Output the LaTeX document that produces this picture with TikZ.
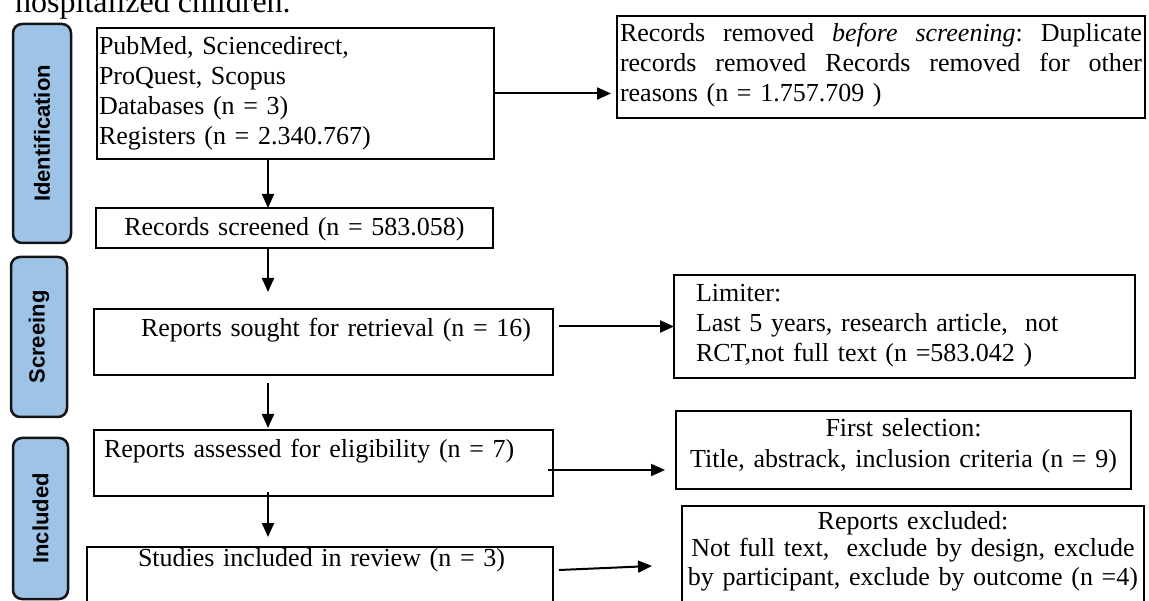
\documentclass[tikz,border=0pt]{standalone}
\usepackage{fontspec}
\setmainfont{Liberation Serif}
\setsansfont{Liberation Sans}
\usetikzlibrary{arrows.meta,calc}
\definecolor{phase}{RGB}{157,195,230}
\definecolor{phaseedge}{RGB}{20,20,20}
\newcommand\jsp{\hspace{0pt plus 1fil}}
\begin{document}
\begin{tikzpicture}[x=1pt,y=-1pt,
  box/.style={draw=black, line width=2.2pt, anchor=north west, inner sep=0pt, outer sep=0pt, font=\fontsize{26}{30}\selectfont},
  phasebox/.style={draw=phaseedge, fill=phase, line width=2.5pt, rounded corners=9pt, rotate=90, inner sep=0pt, font=\fontsize{22}{26}\selectfont\sffamily\bfseries},
  arr/.style={line width=2pt, -{Triangle[length=14pt,width=12pt]}}
]
\useasboundingbox (0,0) rectangle (1149,601);
\clip (0,0) rectangle (1149,601);

\node[anchor=base west, inner sep=0pt, font=\fontsize{32}{36}\selectfont] (title) at (15,13) {hospitalized children.};

\node[phasebox, minimum width=219pt, minimum height=58pt] (ident) at (42,133.5) {Identification};
\node[phasebox, minimum width=160pt, minimum height=56pt] (screen) at (39,337) {Screeing};
\node[phasebox, minimum width=161pt, minimum height=55pt] (incl) at (40.5,518.5) {Included};

\node[box, text width=393pt, inner xsep=2pt, text height=27pt, text depth=104pt, align=left] (src) at (97,28)
  {PubMed, Sciencedirect,\\ ProQuest, Scopus\\ Databases (n = 3)\\ Registers (n = 2.340.767)};

\node[box, text width=522pt, inner xsep=3pt, text height=26pt, text depth=76pt, align=left, font=\fontsize{26}{30}\selectfont] (removed) at (617,16)
  {\makebox[522pt][s]{Records\jsp removed\jsp \textit{before}\jsp \textit{screening}:\jsp Duplicate}\\
   \makebox[522pt][s]{records\jsp removed\jsp Records\jsp removed\jsp for\jsp other}\\
   reasons (n = 1.757.709 )};

\node[box, text width=397pt, text height=28pt, text depth=12pt, align=center] (screened) at (96,208)
  {Records screened (n = 583.058)};

\node[box, text width=459pt, text height=28pt, text depth=38pt, align=left] (sought) at (94,309)
  {\hspace*{47pt}Reports sought for retrieval (n = 16)};

\node[box, text width=459pt, text height=27pt, text depth=39pt, align=left] (assessed) at (94,430)
  {\hspace*{10pt}Reports assessed for eligibility (n = 7)};

\node[box, text width=466pt, text height=19pt, text depth=70pt, align=left] (studies) at (87,547)
  {\hspace*{51pt}Studies included in review (n = 3)};

\node[box, text width=417pt, inner xsep=22pt, text height=27pt, text depth=76pt, align=left] (limiter) at (674,275)
  {Limiter:\\ Last 5 years, research article, \ not\\ RCT,not full text (n =583.042 )};

\node[box, text width=455pt, text height=26pt, text depth=52pt, align=center, font=\fontsize{26}{31}\selectfont] (firstsel) at (676,411)
  {First selection:\\ Title, abstrack, inclusion criteria (n = 9)};

\node[box, text width=462pt, text height=23pt, text depth=100pt, align=center, font=\fontsize{26}{28}\selectfont] (excluded) at (682,506)
  {Reports excluded:\\ Not full text, \ exclude by design, exclude\\ by participant, exclude by outcome (n =4)};

\coordinate (spine) at (268,0);
\draw[arr, shorten >=6pt] (src.east) -- (removed.west |- src.east);
\draw[arr] (src.south -| spine) -- (screened.north -| spine);
\draw[arr, shorten >=17pt] (screened.south -| spine) -- (sought.north -| spine);
\draw[arr, shorten <=8pt, shorten >=2pt] (sought.south -| spine) -- (assessed.north -| spine);
\draw[arr, shorten <=-4pt, shorten >=10pt] (assessed.south -| spine) -- (studies.north -| spine);
\draw[arr, shorten <=6pt] (sought.east |- limiter.west) -- (limiter.west);
\draw[arr] ($(assessed.east)+(-5,7)$) -- ($(firstsel.west)+(-11,20)$);
\draw[arr] ($(studies.north east)+(6,23)$) -- ($(excluded.north west)+(-30,60)$);
\end{tikzpicture}
\end{document}
